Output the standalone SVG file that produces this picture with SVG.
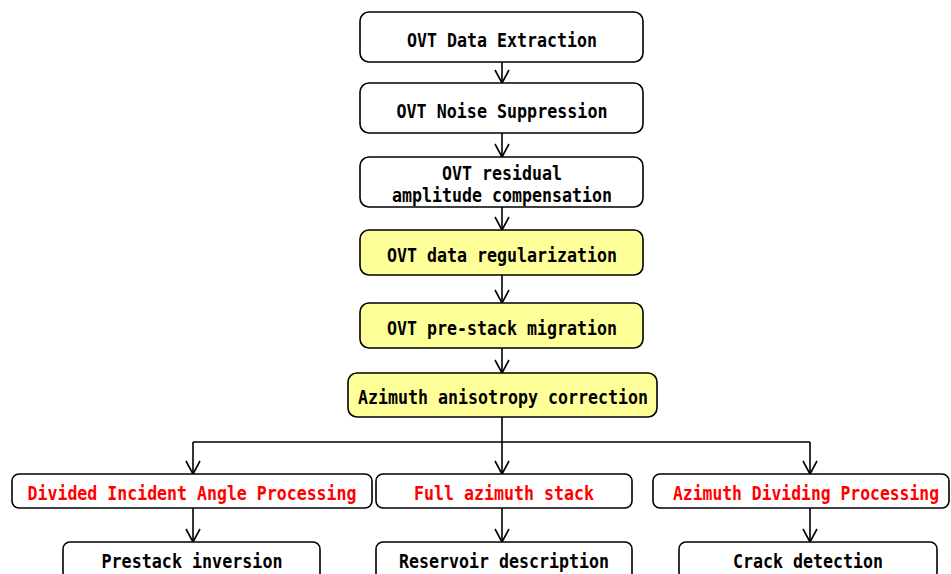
<svg xmlns="http://www.w3.org/2000/svg" width="951" height="574" viewBox="0 0 951 574">
<style>
.box{fill:#fff;stroke:#000;stroke-width:1.6}
.yel{fill:#ffff99;stroke:#000;stroke-width:1.6}
.t{font-family:"DejaVu Sans Mono","Liberation Mono",monospace;font-weight:bold;font-size:20px;fill:#000;text-anchor:middle}
.r{fill:#ff0000}
.c{fill:none;stroke:#000;stroke-width:1.6}
</style>
<defs>
<marker id="ah" viewBox="0 0 16 16" refX="14" refY="8" markerWidth="16" markerHeight="16" markerUnits="userSpaceOnUse" orient="auto">
<path d="M1,1 L14,8 L1,15" fill="none" stroke="#000" stroke-width="1.6"/>
</marker>
</defs>
<g id="connectors">
<line class="c" x1="502" y1="62" x2="502" y2="83" marker-end="url(#ah)"/>
<line class="c" x1="502" y1="133" x2="502" y2="157" marker-end="url(#ah)"/>
<line class="c" x1="502" y1="207" x2="502" y2="230" marker-end="url(#ah)"/>
<line class="c" x1="502" y1="275" x2="502" y2="303" marker-end="url(#ah)"/>
<line class="c" x1="502" y1="348" x2="502" y2="373" marker-end="url(#ah)"/>
<polyline class="c" points="502,417 502,442"/>
<polyline class="c" points="193,442 810,442"/>
<line class="c" x1="193" y1="442" x2="193" y2="474" marker-end="url(#ah)"/>
<line class="c" x1="502" y1="442" x2="502" y2="474" marker-end="url(#ah)"/>
<line class="c" x1="810" y1="442" x2="810" y2="474" marker-end="url(#ah)"/>
<line class="c" x1="193" y1="508" x2="193" y2="542" marker-end="url(#ah)"/>
<line class="c" x1="502" y1="508" x2="502" y2="542" marker-end="url(#ah)"/>
<line class="c" x1="810" y1="508" x2="810" y2="542" marker-end="url(#ah)"/>
</g>
<g id="n1"><rect class="box" x="360" y="12" width="283" height="50" rx="9"/><text class="t" x="502" y="47" textLength="190" lengthAdjust="spacingAndGlyphs">OVT Data Extraction</text></g>
<g id="n2"><rect class="box" x="360" y="83" width="283" height="50" rx="9"/><text class="t" x="502" y="118" textLength="211" lengthAdjust="spacingAndGlyphs">OVT Noise Suppression</text></g>
<g id="n3"><rect class="box" x="360" y="157" width="283" height="50" rx="9"/><text class="t" x="502" y="180" textLength="120" lengthAdjust="spacingAndGlyphs">OVT residual</text><text class="t" x="502" y="202" textLength="220" lengthAdjust="spacingAndGlyphs">amplitude compensation</text></g>
<g id="n4"><rect class="yel" x="360" y="230" width="283" height="45" rx="9"/><text class="t" x="502" y="262" textLength="230" lengthAdjust="spacingAndGlyphs">OVT data regularization</text></g>
<g id="n5"><rect class="yel" x="360" y="303" width="283" height="45" rx="9"/><text class="t" x="502" y="335" textLength="230" lengthAdjust="spacingAndGlyphs">OVT pre-stack migration</text></g>
<g id="n6"><rect class="yel" x="348" y="373" width="309" height="44" rx="9"/><text class="t" x="503" y="404" textLength="290" lengthAdjust="spacingAndGlyphs">Azimuth anisotropy correction</text></g>
<g id="n7"><rect class="box" x="12" y="474" width="360" height="34" rx="7"/><text class="t r" x="192" y="500" textLength="329" lengthAdjust="spacingAndGlyphs">Divided Incident Angle Processing</text></g>
<g id="n8"><rect class="box" x="376" y="474" width="256" height="34" rx="7"/><text class="t r" x="504" y="500" textLength="180" lengthAdjust="spacingAndGlyphs">Full azimuth stack</text></g>
<g id="n9"><rect class="box" x="653" y="474" width="296" height="34" rx="7"/><text class="t r" x="806" y="500" textLength="266" lengthAdjust="spacingAndGlyphs">Azimuth Dividing Processing</text></g>
<g id="n10"><rect class="box" x="63" y="542" width="257" height="45" rx="7"/><text class="t" x="192" y="568" textLength="181" lengthAdjust="spacingAndGlyphs">Prestack inversion</text></g>
<g id="n11"><rect class="box" x="376" y="542" width="256" height="45" rx="7"/><text class="t" x="504" y="568" textLength="210" lengthAdjust="spacingAndGlyphs">Reservoir description</text></g>
<g id="n12"><rect class="box" x="679" y="542" width="258" height="45" rx="7"/><text class="t" x="808" y="568" textLength="150" lengthAdjust="spacingAndGlyphs">Crack detection</text></g>
</svg>
